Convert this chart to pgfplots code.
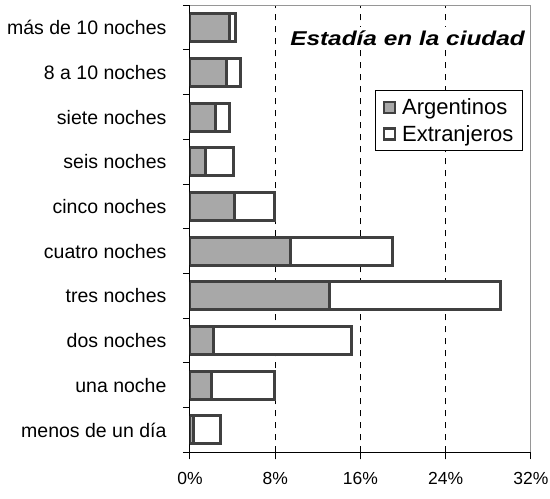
\documentclass[border=0pt]{standalone}
\usepackage{fontspec}
\setmainfont{Liberation Sans}
\newfontfamily\titlefont[FakeStretch=1.22]{Liberation Sans}
\usepackage{pgfplots}
\pgfplotsset{compat=1.18}
\definecolor{barline}{RGB}{64,64,64}
\definecolor{argfill}{RGB}{168,168,168}
\definecolor{framegray}{RGB}{150,150,150}
\begin{document}
\begin{tikzpicture}
\begin{axis}[
  name=ax,
  scale only axis, width=341pt, height=447pt,
  xbar stacked, bar width=28pt,
  xmin=0, xmax=32, ymin=-0.5, ymax=9.5,
  axis x line*=bottom, axis y line*=left,
  axis line style={black, line width=1pt},
  xtick={0,8,16,24,32},
  xticklabel={\pgfmathprintnumber{\tick}\%},
  extra x ticks={8,16,24}, extra x tick labels={}, extra x tick style={grid=major},
  grid style={black, line width=0.8pt, dash pattern=on 6pt off 6pt},
  ytick={-0.5,0.5,...,9.5},
  y tick label as interval,
  yticklabels={menos de un día, una noche, dos noches, tres noches, cuatro noches, cinco noches, seis noches, siete noches, 8 a 10 noches, más de 10 noches},
  tick align=outside, major tick length=7pt,
  tick style={black, line width=1pt},
  /pgf/number format/assume math mode=true,
  xticklabel style={font=\fontsize{17.5}{18}\selectfont, yshift=-9pt},
  yticklabel style={font=\fontsize{19.5}{20}\selectfont, xshift=-13pt},
  legend style={at={(rel axis cs:0.976,0.81)}, anchor=north east, draw=black, line width=0.8pt,
    font=\fontsize{22}{24}\selectfont, inner xsep=7pt, inner ysep=6pt, row sep=5pt,
    /tikz/every odd column/.style={column sep=4pt}},
  legend cell align=left,
  legend image code/.code={\draw[#1, line width=2.6pt] (0pt,-5.5pt) rectangle (11pt,5.5pt);},
  after end axis/.code={\draw[framegray, line width=1pt] (rel axis cs:0,1) -- (rel axis cs:1,1) -- (rel axis cs:1,0);},
]
\addplot[fill=argfill, draw=barline, line width=3pt] coordinates {
(0.3,0) (2.0,1) (2.2,2) (13.1,3) (9.4,4) (4.2,5) (1.5,6) (2.35,7) (3.4,8) (3.7,9)};
\addplot[fill=white, draw=barline, line width=3pt] coordinates {
(2.6,0) (5.9,1) (13.0,2) (16.0,3) (9.6,4) (3.7,5) (2.6,6) (1.4,7) (1.3,8) (0.6,9)};
\legend{Argentinos, Extranjeros}
\node[fill=white, inner sep=4pt, font=\titlefont\bfseries\itshape\fontsize{20}{22}\selectfont] at (rel axis cs:0.638,0.926) {Estadía en la ciudad};
\end{axis}
\pgfresetboundingbox
\path (ax.south west) ++(-190pt,-46.7pt) rectangle ++(550pt,499pt);
\end{tikzpicture}
\end{document}
